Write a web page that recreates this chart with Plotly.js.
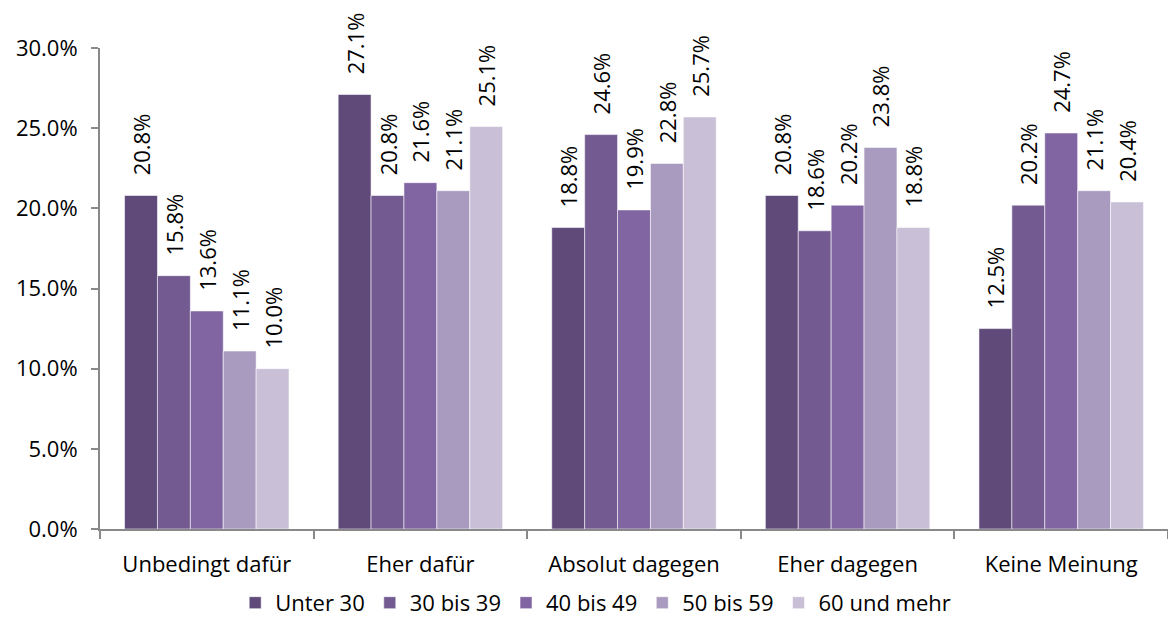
<!DOCTYPE html>
<html>
<head>
<meta charset="utf-8">
<script src="https://cdn.plot.ly/plotly-3.0.1.min.js"></script>
<style>html,body{margin:0;padding:0;background:#fff;}#chart{width:1168px;height:628px;}</style>
</head>
<body>
<div id="chart"></div>
<script>
const categories = ["Unbedingt dafür", "Eher dafür", "Absolut dagegen", "Eher dagegen", "Keine Meinung"];
const seriesNames = ["Unter 30", "30 bis 39", "40 bis 49", "50 bis 59", "60 und mehr"];
const unter30 = [20.8, 27.1, 18.8, 20.8, 12.5];
const bis39 = [15.8, 20.8, 24.6, 18.6, 20.2];
const bis49 = [13.6, 21.6, 19.9, 20.2, 24.7];
const bis59 = [11.1, 21.1, 22.8, 23.8, 21.1];
const undMehr = [10.0, 25.1, 25.7, 18.8, 20.4];
const yTicks = [0, 5, 10, 15, 20, 25, 30];

const colors = ["#5f4a7a", "#735a91", "#8164a2", "#a99bbf", "#c9c0d8"];
const allValues = [unter30, bis39, bis49, bis59, undMehr];
const font = "Open Sans, Liberation Sans, sans-serif";

const traces = allValues.map((vals, i) => ({
  type: "bar",
  name: seriesNames[i],
  x: categories,
  y: vals,
  marker: {color: colors[i], line: {color: "rgba(255,255,255,0.55)", width: 1}},
  texttemplate: "\u00a0\u00a0\u00a0%{y:.1f}%",
  textposition: "outside",
  textangle: -90,
  constraintext: "none",
  cliponaxis: false,
  textfont: {family: font, size: 22, color: "#000"},
  hoverinfo: "skip"
}));

const layout = {
  width: 1168, height: 628,
  margin: {l: 100, r: 0, t: 48, b: 99},
  paper_bgcolor: "#fff", plot_bgcolor: "#fff",
  barmode: "group", bargap: 0.23, bargroupgap: 0,
  font: {family: font, size: 22, color: "#000"},
  uniformtext: {mode: false},
  xaxis: {
    range: [-0.5, 4.5], automargin: false,
    showline: true, linecolor: "#898989", linewidth: 2,
    ticks: "outside", tickson: "boundaries", ticklen: 8, tickcolor: "#898989", tickwidth: 2,
    ticklabelstandoff: 15,
    showgrid: false, zeroline: false,
    tickfont: {family: font, size: 22, color: "#000"}
  },
  yaxis: {
    range: [0, 30], automargin: false,
    tickvals: yTicks,
    ticktext: yTicks.map(v => v.toFixed(1) + "%"),
    showline: true, linecolor: "#898989", linewidth: 2,
    ticks: "outside", ticklen: 7, tickcolor: "#898989", tickwidth: 2,
    ticklabelstandoff: 9,
    showgrid: false, zeroline: false,
    tickfont: {family: font, size: 22, color: "#000"}
  },
  legend: {
    orientation: "h", xref: "container", yref: "container",
    x: 0.51, xanchor: "center", y: 0.04, yanchor: "middle",
    font: {family: font, size: 22, color: "#000"},
    itemwidth: 30, traceorder: "normal"
  },
  showlegend: true
};

Plotly.newPlot("chart", traces, layout, {displayModeBar: false, staticPlot: true});
</script>
</body>
</html>
